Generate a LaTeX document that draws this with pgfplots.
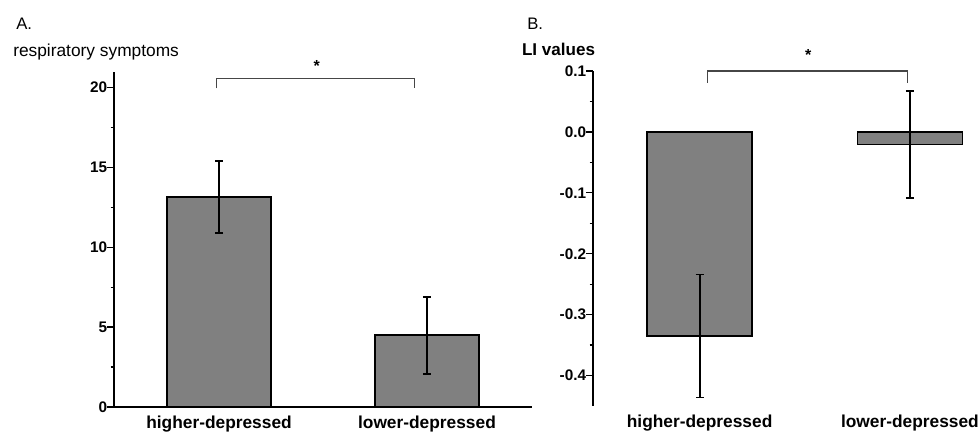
\documentclass[border=0pt]{standalone}
\usepackage{pgfplots}
\pgfplotsset{compat=1.18}
\usepackage{fontspec}
\setmainfont{Liberation Sans}
\definecolor{barfill}{RGB}{128,128,128}
\definecolor{brk}{RGB}{70,70,70}
\begin{document}
\begin{tikzpicture}
\pgfplotsset{
  common/.style={
    scale only axis,
    axis y line*=left,
    tick align=outside,
    ytick pos=left,
    xtick={1,2},
    xticklabels={higher-depressed,lower-depressed},
    x tick label style={font=\fontsize{13}{15}\selectfont\bfseries, anchor=base, inner sep=0pt, yshift=-11.5pt},
    y tick label style={font=\fontsize{11.5}{13}\selectfont\bfseries, anchor=east, inner sep=0pt},
    major x tick style={draw=none},
    major y tick style={line width=1pt, black},
    minor y tick style={line width=1pt, black},
    major tick length=5pt,
    minor tick length=2.5pt,
    minor y tick num=1,
    axis line style={line width=1.4pt, black},
    ybar, bar width=0.5, bar shift=0pt,
    clip=false,
    every axis plot/.append style={line width=1.1pt},
  },
  errb/.style={
    draw=black, fill=barfill, line width=1.1pt,
    error bars/.cd, y dir=both, y explicit,
    error bar style={line width=1.4pt, black},
    error mark options={rotate=90, mark size=3pt, line width=1.4pt, black},
  },
}
% Panel A
\begin{axis}[common,
  at={(85.5pt,18.75pt)}, anchor=south west,
  width=313.5pt, height=251.6pt,
  axis x line*=bottom,
  xmin=0.495, xmax=2.505,
  ymin=0, ymax=21,
  ytick={0,5,10,15,20},
  yticklabels={0,5,10,15,20},
]
\addplot[errb] coordinates {(1,13.15) +- (0,2.27) (2,4.5) +- (0,2.41)};
\addplot[ybar=0pt, sharp plot, draw=brk, line width=0.8pt, mark=none, forget plot]
  coordinates {(0.986,19.95) (0.986,20.55) (1.942,20.55) (1.942,19.95)};
\node[font=\fontsize{12}{13}\selectfont\bfseries] at (axis cs:1.47,21.35) {*};
\end{axis}
% Panel B
\begin{axis}[common,
  at={(444.75pt,19.5pt)}, anchor=south west,
  width=285pt, height=251.25pt,
  x axis line style={draw=none},
  axis x line*=bottom,
  xmin=0.493, xmax=2.3,
  ymin=-0.45, ymax=0.1,
  ytick={-0.4,-0.3,-0.2,-0.1,0,0.1},
  yticklabels={-0.4,-0.3,-0.2,-0.1,0.0,0.1},
]
\addplot[errb] coordinates {(1,-0.335) +- (0,0.101) (2,-0.021) +- (0,0.088)};
\addplot[ybar=0pt, sharp plot, draw=brk, line width=0.8pt, mark=none, forget plot]
  coordinates {(1.036,0.081) (1.036,0.1) (1.988,0.1) (1.988,0.081)};
\node[font=\fontsize{12}{13}\selectfont\bfseries] at (axis cs:1.516,0.126) {*};
\end{axis}
\node[anchor=base west, inner sep=0pt, font=\fontsize{12.5}{14}\selectfont] at (12pt,301.5pt) {A.};
\node[anchor=base west, inner sep=0pt, font=\fontsize{12.5}{14}\selectfont] at (395.25pt,301.5pt) {B.};
\node[anchor=base west, inner sep=0pt, font=\fontsize{13}{15}\selectfont] at (9.75pt,281.25pt) {respiratory symptoms};
\node[anchor=base west, inner sep=0pt, font=\fontsize{12.8}{15}\selectfont\bfseries] at (391.3pt,282.2pt) {LI values};
\pgfresetboundingbox
\useasboundingbox (0,0) rectangle (734.25pt,324pt);
\end{tikzpicture}
\end{document}
